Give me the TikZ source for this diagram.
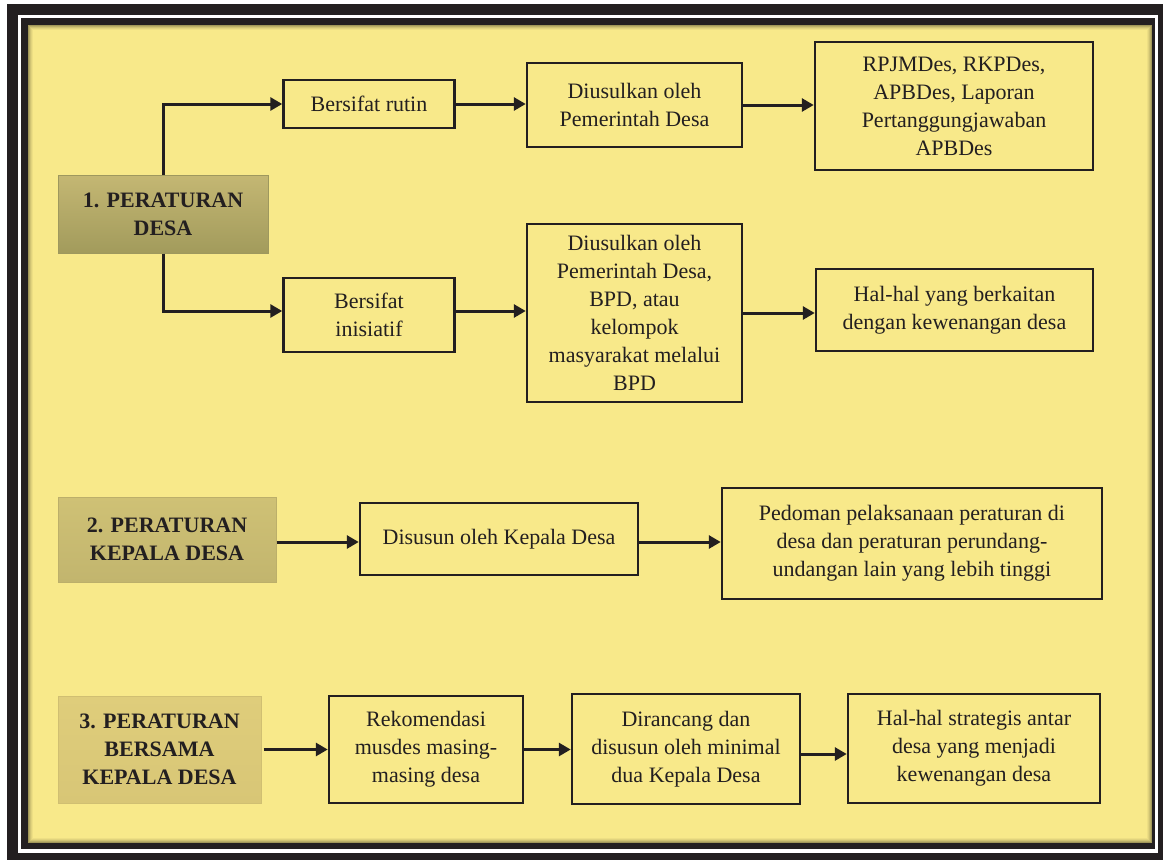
\documentclass[tikz,border=0pt]{standalone}
\usepackage{fontspec}
\setmainfont{Liberation Serif}
\usetikzlibrary{arrows.meta}
\definecolor{bgyellow}{HTML}{F8E98A}
\definecolor{ink}{HTML}{231F20}
\definecolor{hAtop}{HTML}{C4B773}
\definecolor{hAbot}{HTML}{A29B5C}
\definecolor{hAbd}{HTML}{9E985E}
\definecolor{hBtop}{HTML}{CFC175}
\definecolor{hBbot}{HTML}{C2B56E}
\definecolor{hBbd}{HTML}{BCAF6A}
\definecolor{hCtop}{HTML}{DFCD7B}
\definecolor{hCbot}{HTML}{D8C676}
\definecolor{hCbd}{HTML}{D0BF72}
\begin{document}
\begin{tikzpicture}[x=1pt,y=-1pt,
  box/.style={draw=ink, line width=2.5pt, fill=bgyellow, align=center, inner sep=0pt,
    font=\fontsize{22}{28}\selectfont, text=ink},
  head/.style={line width=1pt, align=center, inner sep=0pt,
    font=\fontsize{22}{28}\selectfont\bfseries, text=ink},
  arr/.style={draw=ink, line width=3pt, -{Triangle[length=12pt,width=13pt]}}]
\useasboundingbox (0,0) rectangle (1163,860);
% frame
\fill[white] (0,0) rectangle (1163,860);
\fill[ink] (7,4) rectangle (1163,860);
\fill[white] (18,15) rectangle (1158,853);
\fill[ink] (21,18) rectangle (1155,849);
\fill[bgyellow] (28,25) rectangle (1152,843);
\foreach \i/\o in {0.5/0.35,1.5/0.25,2.5/0.16,3.5/0.09,4.5/0.04}
  \draw[black, opacity=\o, line width=1pt] (28+\i,25+\i) rectangle (1152-\i,843-\i);

% section 1
\node[head, draw=hAbd, top color=hAtop, bottom color=hAbot, minimum width=210pt, minimum height=78pt] (n1) at (163,214) {1. PERATURAN\\DESA};
\node[box, minimum width=171pt, minimum height=48pt] (rutin) at (369,104) {Bersifat rutin};
\node[box, minimum width=215pt, minimum height=84pt] (usul1) at (634.5,105) {Diusulkan oleh\\Pemerintah Desa};
\node[box, minimum width=278pt, minimum height=128pt] (rpjm) at (954,106) {RPJMDes, RKPDes,\\APBDes, Laporan\\Pertanggungjawaban\\APBDes};
\node[box, minimum width=171pt, minimum height=74pt] (inis) at (369,315) {Bersifat\\inisiatif};
\node[box, minimum width=215pt, minimum height=178pt] (usul2) at (634.5,313) {Diusulkan oleh\\Pemerintah Desa,\\BPD, atau\\kelompok\\masyarakat melalui\\BPD};
\node[box, minimum width=277pt, minimum height=82pt] (hal1) at (954.5,310) {Hal-hal yang berkaitan\\dengan kewenangan desa};

\draw[arr] (n1.north) |- (rutin.west);
\draw[arr] (n1.south) |- ([yshift=4pt]inis.west);
\draw[arr] (rutin.east) -- (rutin.east -| usul1.west);
\draw[arr] (usul1.east) -- (usul1.east -| rpjm.west);
\draw[arr] ([yshift=4pt]inis.east) -- ([yshift=4pt]inis.east -| usul2.west);
\draw[arr] (usul2.east) -- (usul2.east -| hal1.west);

% section 2
\node[head, draw=hBbd, top color=hBtop, bottom color=hBbot, minimum width=218pt, minimum height=85pt] (n2) at (167,539.5) {2. PERATURAN\\KEPALA DESA};
\node[box, minimum width=278pt, minimum height=72pt] (dis) at (499,539) {Disusun oleh Kepala Desa};
\node[box, minimum width=380pt, minimum height=111pt] (ped) at (912,543.5) {Pedoman pelaksanaan peraturan di\\desa dan peraturan perundang-\\undangan lain yang lebih tinggi};

\draw[arr] ([yshift=-2.5pt]n2.east) -- ([yshift=-2.5pt]n2.east -| dis.west);
\draw[arr] ([yshift=-3pt]dis.east) -- ([yshift=-3pt]dis.east -| ped.west);

% section 3
\node[head, draw=hCbd, top color=hCtop, bottom color=hCbot, minimum width=203pt, minimum height=107pt] (n3) at (159.5,749.5) {3. PERATURAN\\BERSAMA\\KEPALA DESA};
\node[box, minimum width=194pt, minimum height=107pt] (rek) at (426,749.5) {Rekomendasi\\musdes masing-\\masing desa};
\node[box, minimum width=228pt, minimum height=110pt] (dir) at (686,749) {Dirancang dan\\disusun oleh minimal\\dua Kepala Desa};
\node[box, minimum width=252pt, minimum height=109pt] (hal2) at (974,748.5) {Hal-hal strategis antar\\desa yang menjadi\\kewenangan desa};

\draw[arr] ([xshift=2pt]n3.east) -- (n3.east -| rek.west);
\draw[arr] (rek.east) -- (rek.east -| dir.west);
\draw[arr] ([yshift=-5pt]dir.east) -- ([yshift=-5pt]dir.east -| hal2.west);
\end{tikzpicture}
\end{document}
